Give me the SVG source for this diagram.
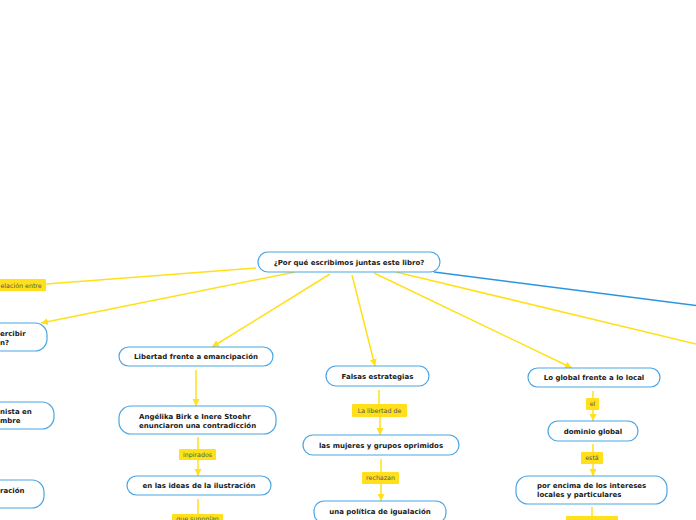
<svg xmlns="http://www.w3.org/2000/svg" width="696" height="520" viewBox="0 0 696 520">
<defs>
<marker id="arr" markerUnits="userSpaceOnUse" markerWidth="8" markerHeight="8" refX="7" refY="4" orient="auto">
<path d="M0,0.5 L7,4 L0,7.5 z" fill="#FFE01A"/>
</marker>
<style>
.n{fill:#fff;stroke:#4AA6E4;stroke-width:1.2}
.t{font-family:"DejaVu Sans",Verdana,sans-serif;font-weight:bold;font-size:7px;fill:#1a1a1a}
.c{text-anchor:middle}
.l{fill:#FFE01A}
.lt{font-family:"DejaVu Sans",Verdana,sans-serif;font-size:6.3px;fill:#555;text-anchor:middle}
.y{stroke:#FFE01A;stroke-width:1.5;fill:none}
.ya{stroke:#FFE01A;stroke-width:1.5;fill:none;marker-end:url(#arr)}
.b{stroke:#2B95E0;stroke-width:1.5;fill:none}
</style>
</defs>
<rect width="696" height="520" fill="#fff"/>
<g id="connectors">
<line class="y" x1="256" y1="268" x2="46" y2="284"/>
<line class="ya" x1="295" y1="272" x2="41" y2="323"/>
<line class="ya" x1="330" y1="274" x2="212" y2="347"/>
<line class="ya" x1="352" y1="275" x2="375" y2="366"/>
<line class="ya" x1="374" y1="273" x2="572" y2="368"/>
<line class="y" x1="396" y1="272" x2="700" y2="345"/>
<line class="b" x1="434" y1="272" x2="700" y2="306"/>
<line class="ya" x1="196" y1="370" x2="196" y2="406"/>
<line class="y" x1="198" y1="437" x2="198" y2="449"/>
<line class="ya" x1="198" y1="460" x2="198" y2="476"/>
<line class="y" x1="198" y1="499" x2="198" y2="515"/>
<line class="y" x1="379" y1="390" x2="379" y2="404"/>
<line class="ya" x1="380" y1="417" x2="380" y2="435"/>
<line class="y" x1="381" y1="459" x2="381" y2="472"/>
<line class="ya" x1="381" y1="484" x2="381" y2="501"/>
<line class="y" x1="593" y1="391" x2="593" y2="398"/>
<line class="ya" x1="593" y1="410" x2="593" y2="421"/>
<line class="y" x1="593" y1="444" x2="593" y2="452"/>
<line class="ya" x1="593" y1="464" x2="593" y2="476"/>
<line class="y" x1="592" y1="507" x2="592" y2="516"/>
</g>
<g id="root"><rect class="n" x="258" y="252" width="182" height="20" rx="10"/><text class="t c" x="349" y="264.5">¿Por qué escribimos juntas este libro?</text></g>
<g id="lbl-relacion"><rect class="l" x="-10" y="279" width="56" height="12" rx="1"/><text class="lt" x="0.5" y="287.5" style="text-anchor:start">elación entre</text></g>
<g id="left1"><rect class="n" x="-100" y="323" width="147" height="28" rx="12"/><text class="t" x="0" y="335.5">ercibir</text><text class="t" x="0" y="344.5">n?</text></g>
<g id="left2"><rect class="n" x="-100" y="402" width="154" height="27" rx="12"/><text class="t" x="0" y="413.5">nista en</text><text class="t" x="0" y="422.5">mbre</text></g>
<g id="left3"><rect class="n" x="-100" y="480" width="144" height="28" rx="12"/><text class="t" x="0" y="492.5">ración</text></g>
<g id="libertad"><rect class="n" x="119" y="347" width="154" height="19" rx="9.5"/><text class="t c" x="196" y="359">Libertad frente a emancipación</text></g>
<g id="angelika"><rect class="n" x="119" y="406" width="157" height="28" rx="12"/><text class="t" x="139" y="419">Angélika Birk e Inere Stoehr</text><text class="t" x="139" y="427.5">enunciaron una contradicción</text></g>
<g id="lbl-inpirados"><rect class="l" x="179" y="449" width="37" height="11" rx="1"/><text class="lt" x="197.5" y="456.8">inpirados</text></g>
<g id="ideas"><rect class="n" x="127" y="476" width="144" height="19" rx="9.5"/><text class="t c" x="199" y="488">en las ideas de la ilustración</text></g>
<g id="lbl-suponian"><rect class="l" x="172" y="514" width="51" height="12" rx="1"/><text class="lt" x="197.5" y="521">que suponían</text></g>
<g id="falsas"><rect class="n" x="326" y="366" width="103" height="20" rx="10"/><text class="t c" x="377.5" y="378.5">Falsas estrategias</text></g>
<g id="lbl-libertadde"><rect class="l" x="352" y="404" width="55" height="13" rx="1"/><text class="lt" x="379.5" y="413">La libertad de</text></g>
<g id="mujeres"><rect class="n" x="303" y="435" width="156" height="20" rx="10"/><text class="t c" x="381" y="448">las mujeres y grupos oprimidos</text></g>
<g id="lbl-rechazan"><rect class="l" x="362" y="472" width="37" height="12" rx="1"/><text class="lt" x="380.5" y="480.3">rechazan</text></g>
<g id="politica"><rect class="n" x="314" y="501" width="132" height="22" rx="10"/><text class="t c" x="380" y="514">una política de igualación</text></g>
<g id="global"><rect class="n" x="528" y="368" width="132" height="19" rx="9.5"/><text class="t c" x="594" y="380">Lo global frente a lo local</text></g>
<g id="lbl-el"><rect class="l" x="586" y="398" width="13" height="12" rx="1"/><text class="lt" x="592.5" y="406.3">el</text></g>
<g id="dominio"><rect class="n" x="548" y="421" width="90" height="20" rx="10"/><text class="t c" x="593" y="434">dominio global</text></g>
<g id="lbl-esta"><rect class="l" x="581" y="452" width="22" height="12" rx="1"/><text class="lt" x="592" y="460.3">está</text></g>
<g id="encima"><rect class="n" x="516" y="476" width="151" height="28" rx="12"/><text class="t" x="537" y="488">por encima de los intereses</text><text class="t" x="537" y="497">locales y particulares</text></g>
<g id="lbl-bottom"><rect class="l" x="566" y="516" width="52" height="10" rx="1"/></g>
</svg>
